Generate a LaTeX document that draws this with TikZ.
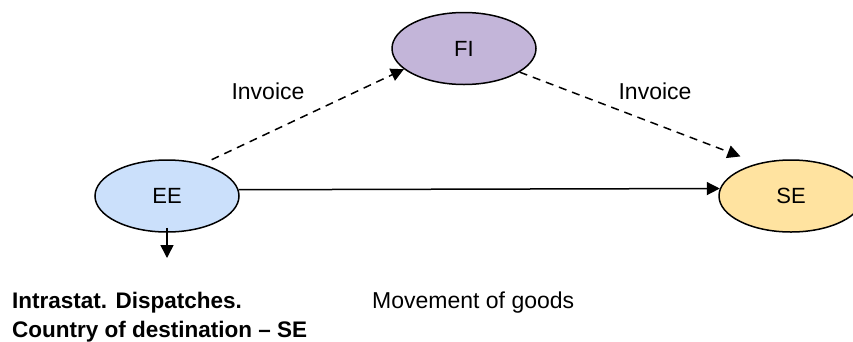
\documentclass[tikz,border=0pt]{standalone}
\usepackage{fontspec}
\setmainfont{Liberation Sans}
\usetikzlibrary{shapes.geometric,arrows.meta}
\definecolor{eeblue}{HTML}{CBE0FB}
\definecolor{fipurple}{HTML}{C3B5D9}
\definecolor{seyellow}{HTML}{FFE3A0}
\tikzset{
  party/.style={ellipse, draw=black, line width=1.5pt, minimum width=144pt, minimum height=72pt, inner sep=0pt, font=\fontsize{22}{26}\selectfont},
  lbl/.style={inner sep=0pt, font=\fontsize{23}{28}\selectfont},
  conn/.style={line width=1.5pt, -{Triangle[length=13pt,width=13pt]}},
  invoiceline/.style={conn, dash pattern=on 8pt off 6pt}
}
\begin{document}
\begin{tikzpicture}[x=1pt,y=-1pt]
\useasboundingbox (0,0) rectangle (853,341);
\node[party, fill=eeblue] (EE) at (167,196) {EE};
\node[party, fill=fipurple] (FI) at (464,48.5) {FI};
\node[party, fill=seyellow] (SE) at (791,196) {SE};
\coordinate (down) at (167,258);
\draw[invoiceline, shorten <=10pt] (EE.42) -- (FI.199);
\draw[invoiceline, shorten >=19pt] (FI.-23) -- (SE.135);
\draw[conn] (EE.5.7) -- (SE.174.3);
\draw[conn] ([yshift=5pt]EE.south) -- (down);
\node[lbl, anchor=base] (inv1) at (268,99) {Invoice};
\node[lbl, anchor=base] (inv2) at (655,99) {Invoice};
\node[lbl, anchor=base west] (mov) at (372,308) {Movement of goods};
\node[inner sep=0pt, anchor=north west, align=left, font=\fontsize{22.5}{29}\selectfont\bfseries] (intra) at (12,291.5) {Intrastat. Dispatches.\\Country of destination – SE};
\end{tikzpicture}
\end{document}
